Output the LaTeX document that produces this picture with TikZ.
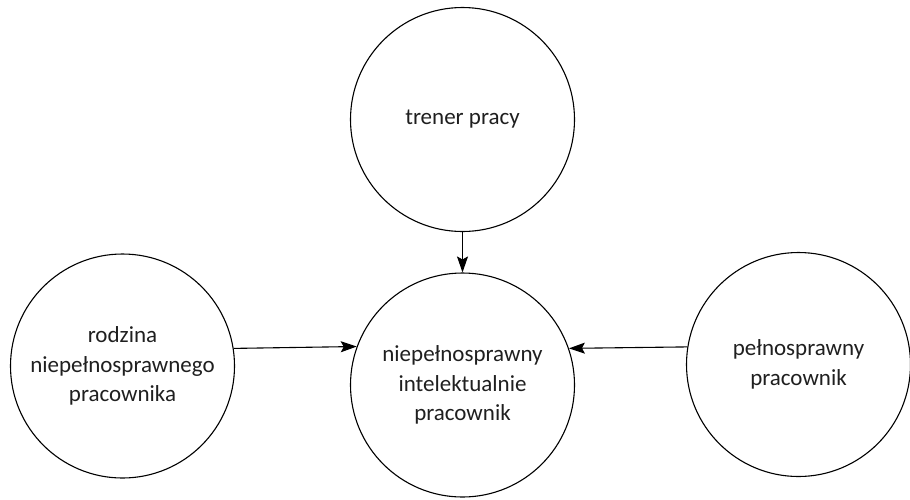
\documentclass[tikz,border=0pt]{standalone}
\usepackage{fontspec}
\setmainfont{Carlito}
\usetikzlibrary{arrows.meta}
\begin{document}
\begin{tikzpicture}[x=1pt,y=-1pt,
  blob/.style={circle,draw=black,line width=1.1pt,inner sep=0pt,minimum size=224pt,
    align=center,text=black!88,font=\fontsize{23}{29.5}\selectfont},
  link/.style={line width=1.1pt,-{Stealth[length=16pt,width=11pt,inset=3pt]}}]
\useasboundingbox (0,0) rectangle (910,499);
\node[blob] (top) at (462.5,119.5) {trener pracy};
\node[blob] (mid) at (462.5,385) {niepełnosprawny\\intelektualnie\\pracownik};
\node[blob] (lft) at (122.5,366) {rodzina\\niepełnosprawnego\\pracownika};
\node[blob] (rgt) at (798.5,364.5) {pełnosprawny\\pracownik};
\draw[link] (top.south) -- (mid.north);
\draw[link] (lft.9.7) -- (mid.160.3);
\draw[link] (rgt.171) -- (mid.19.7);
\end{tikzpicture}
\end{document}
